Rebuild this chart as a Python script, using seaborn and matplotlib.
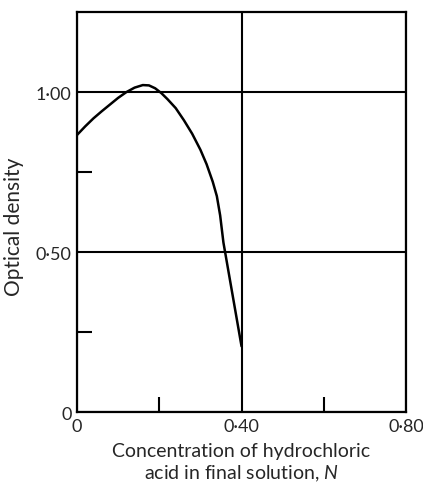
import numpy as np
import pandas as pd
import matplotlib
matplotlib.use("Agg")
import matplotlib.pyplot as plt
import seaborn as sns

# values
conc = [0.0, 0.02, 0.04, 0.06, 0.08, 0.10, 0.12, 0.14, 0.16, 0.175, 0.19, 0.205,
        0.22, 0.24, 0.26, 0.28, 0.30, 0.315, 0.33, 0.34, 0.348, 0.356, 0.40]
density = [0.866, 0.893, 0.918, 0.94, 0.961, 0.982, 1.0, 1.014, 1.022, 1.021, 1.012, 0.997,
           0.978, 0.95, 0.912, 0.87, 0.82, 0.775, 0.72, 0.675, 0.615, 0.53, 0.206]

x_ticks = [0.0, 0.4, 0.8]
x_ticklabels = ["0", "0·40", "0·80"]
y_ticks = [0.0, 0.5, 1.0]
y_ticklabels = ["0", "0·50", "1·00"]
x_minor = [0.2, 0.6]
y_minor = [0.25, 0.75]

sns.set_style("white")
plt.rcParams["font.family"] = ["Lato", "DejaVu Sans"]
plt.rcParams["mathtext.fontset"] = "custom"
plt.rcParams["mathtext.it"] = "Lato:italic"

df = pd.DataFrame({"conc": conc, "density": density})

fig = plt.figure(figsize=(4.23, 4.85), dpi=100)
ax = fig.add_axes([0.182, 0.148, 0.778, 0.825])

sns.lineplot(data=df, x="conc", y="density", ax=ax, color="black", linewidth=1.8)

ax.set_xlim(0, 0.8)
ax.set_ylim(0, 1.25)
ax.set_xticks(x_ticks)
ax.set_xticklabels(x_ticklabels)
ax.set_yticks(y_ticks)
ax.set_yticklabels(y_ticklabels)
ax.set_xticks(x_minor, minor=True)
ax.set_yticks(y_minor, minor=True)

ax.grid(True, which="major", color="black", linewidth=1.5)
ax.tick_params(which="major", length=0, labelsize=13, pad=4)
ax.tick_params(which="minor", bottom=True, left=True, direction="in",
               length=11, width=1.5, color="black")

for s in ax.spines.values():
    s.set_visible(True)
    s.set_color("black")
    s.set_linewidth(1.6)

ax.set_ylabel("Optical density", fontsize=15)
ax.yaxis.set_label_coords(-0.16, 0.467)
ax.set_xlabel("Concentration of hydrochloric\nacid in final solution, $N$",
              fontsize=14, linespacing=1.25)
ax.xaxis.set_label_coords(0.5, -0.075)

fig.savefig("out.png", dpi=100)
